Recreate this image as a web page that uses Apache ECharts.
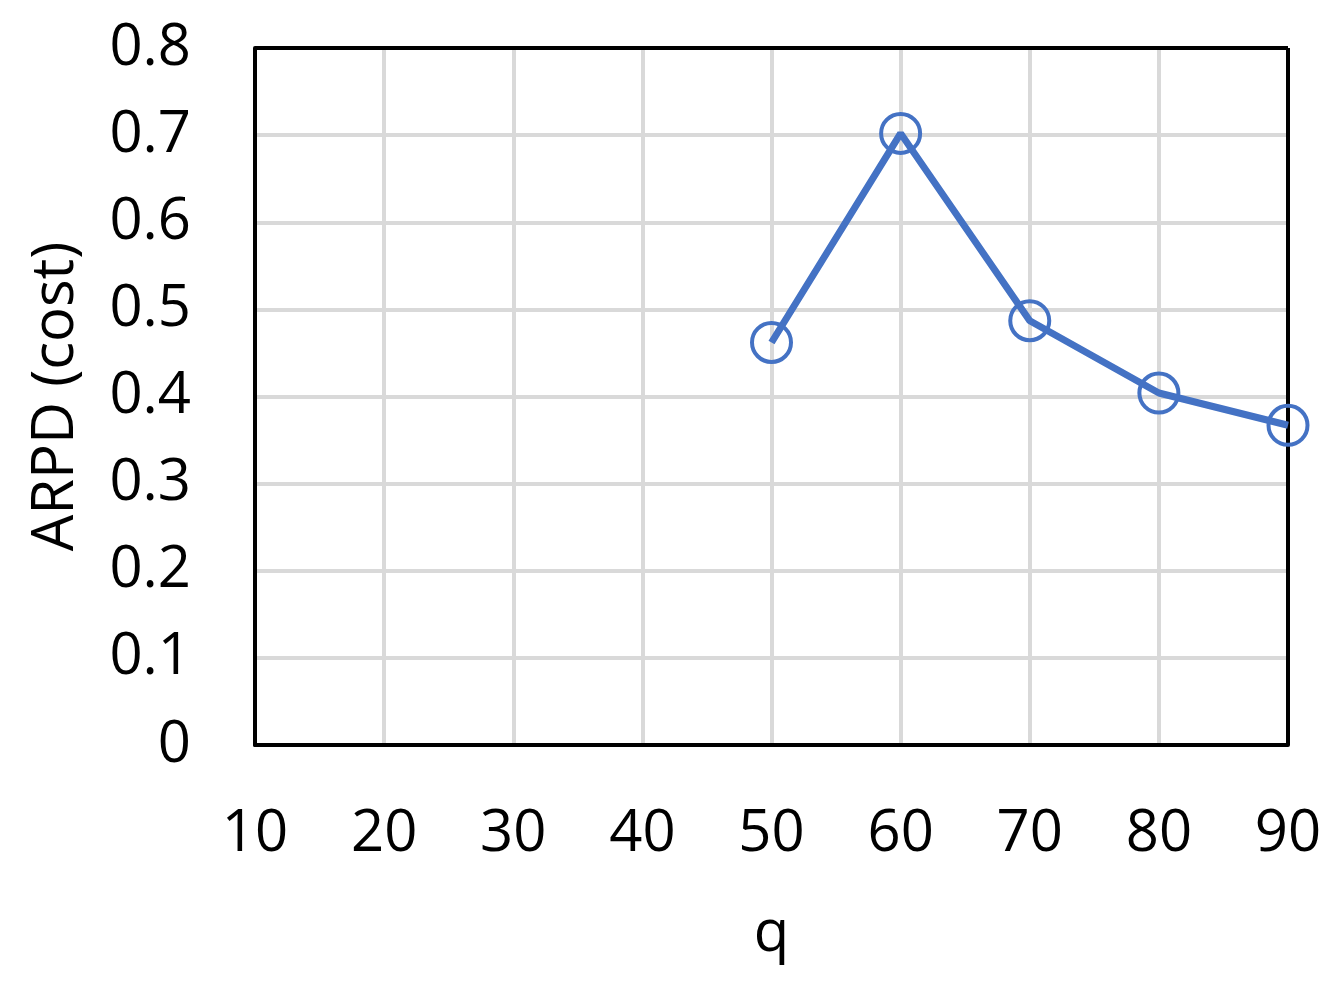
<!DOCTYPE html>
<html>
<head>
<meta charset="utf-8">
<script src="https://cdn.jsdelivr.net/npm/echarts@6/dist/echarts.min.js"></script>
<style>
  html, body { margin: 0; padding: 0; background: #fff; }
  #chart { width: 1338px; height: 992px; }
</style>
</head>
<body>
<div id="chart"></div>
<script>
// values
const qValues = [50, 60, 70, 80, 90];
const arpdCost = [0.462, 0.702, 0.487, 0.404, 0.367];

const myChart = echarts.init(document.getElementById('chart'));

let option = {
  animation: false,
  textStyle: { fontFamily: 'Open Sans' },
  grid: {
    left: 255,
    right: 50,
    top: 48,
    bottom: 247
  },
  xAxis: {
    type: 'value',
    min: 10,
    max: 90,
    interval: 10,
    name: 'q',
    nameLocation: 'middle',
    nameGap: 160,
    nameTextStyle: { fontSize: 58, color: '#000', fontFamily: 'Open Sans' },
    axisLine: { show: true, lineStyle: { color: '#000', width: 4 } },
    axisTick: { show: false },
    splitLine: { show: true, lineStyle: { color: '#d9d9d9', width: 4 } },
    axisLabel: {
      margin: 60,
      fontSize: 58,
      color: '#000',
      fontFamily: 'Open Sans'
    }
  },
  yAxis: {
    type: 'value',
    min: 0,
    max: 0.8,
    interval: 0.1,
    name: 'ARPD (cost)',
    nameLocation: 'middle',
    nameGap: 170,
    nameTextStyle: { fontSize: 58, color: '#000', fontFamily: 'Open Sans' },
    axisLine: { show: true, lineStyle: { color: '#000', width: 4 } },
    axisTick: { show: false },
    splitLine: { show: true, lineStyle: { color: '#d9d9d9', width: 4 } },
    axisLabel: {
      margin: 64,
      fontSize: 58,
      color: '#000',
      fontFamily: 'Open Sans',
      padding: [7, 0, 0, 0],
      formatter: function (v) { return v === 0 ? '0' : v.toFixed(1); }
    }
  },
  series: [
    // black frame on the top and right sides
    {
      type: 'line',
      silent: true,
      data: [],
      markLine: {
        silent: true,
        symbol: 'none',
        label: { show: false },
        lineStyle: { color: '#000', width: 4, type: 'solid' },
        data: [{ yAxis: 0.8 }, { xAxis: 90 }]
      }
    },
    {
      name: 'ARPD (cost)',
      type: 'line',
      data: qValues.map((q, i) => [q, arpdCost[i]]),
      symbol: 'circle',
      symbolSize: 39,
      showSymbol: true,
      itemStyle: {
        color: 'rgba(255,255,255,0)',
        borderColor: '#4472c4',
        borderWidth: 4
      },
      lineStyle: { color: '#4472c4', width: 7 },
      z: 5
    }
  ]
};

myChart.setOption(option);
</script>
</body>
</html>
